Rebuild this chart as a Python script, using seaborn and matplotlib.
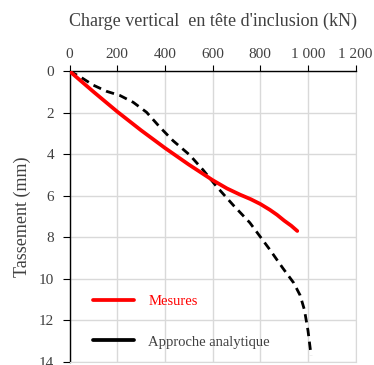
import pandas as pd
import matplotlib
matplotlib.use('Agg')
import matplotlib.pyplot as plt
import seaborn as sns
from matplotlib.lines import Line2D

# data
mes_charge = [0, 100, 200, 300, 400, 500, 600, 660, 715, 760, 800, 840, 870, 900, 930, 955]
mes_tass = [0, 0.99, 1.95, 2.85, 3.7, 4.5, 5.25, 5.65, 5.95, 6.17, 6.4, 6.68, 6.92, 7.2, 7.45, 7.7]
ana_charge = [0, 43, 99, 155, 211, 267, 323, 379, 434, 504, 560, 616, 686, 756, 840, 895, 940, 967, 985, 1000, 1013]
ana_tass = [0, 0.26, 0.67, 0.97, 1.17, 1.5, 1.98, 2.7, 3.35, 4.04, 4.76, 5.55, 6.45, 7.3, 8.6, 9.5, 10.2, 10.8, 11.5, 12.5, 13.7]
x_ticks = [0, 200, 400, 600, 800, 1000, 1200]
x_labels = ['0', '200', '400', '600', '800', '1 000', '1 200']
y_ticks = [0, 2, 4, 6, 8, 10, 12, 14]

sns.set_style('white')
plt.rcParams['font.family'] = ['Liberation Serif', 'DejaVu Serif']
txt = '#404040'

fig = plt.figure(figsize=(3.74, 3.65), dpi=100)
ax = fig.add_axes([0.186, 0.009, 0.765, 0.796])

df_mes = pd.DataFrame({'charge': mes_charge, 'tass': mes_tass})
df_ana = pd.DataFrame({'charge': ana_charge, 'tass': ana_tass})
sns.lineplot(data=df_ana, x='charge', y='tass', sort=False, ax=ax, color='black',
             lw=2.0, linestyle=(0, (3, 2)), zorder=3)
sns.lineplot(data=df_mes, x='charge', y='tass', sort=False, ax=ax, color='#ff0000',
             lw=2.7, zorder=4, solid_capstyle='round', solid_joinstyle='round')

ax.set_xlim(0, 1200)
ax.set_ylim(14, 0)
ax.xaxis.tick_top()
ax.xaxis.set_label_position('top')
ax.set_xticks(x_ticks)
ax.set_xticklabels(x_labels)
ax.set_yticks(y_ticks)
ax.grid(True, color='#d9d9d9', lw=1)
ax.set_axisbelow(True)
for s in ['right', 'bottom']:
    ax.spines[s].set_color('#d9d9d9')
for s in ['left', 'top']:
    ax.spines[s].set_color('black')
    ax.spines[s].set_linewidth(1.0)
ax.tick_params(axis='x', top=True, bottom=False, direction='out', length=4, color='black',
               labelsize=11, labelcolor=txt, pad=3.5)
ax.tick_params(axis='y', left=True, direction='out', length=5, color='black',
               labelsize=11, labelcolor=txt, pad=6)
ax.set_xlabel("Charge vertical  en tête d'inclusion (kN)", fontsize=13, color=txt, labelpad=16)
ax.set_ylabel('Tassement (mm)', fontsize=13, color=txt, labelpad=6)

handles = [Line2D([], [], color='#ff0000', lw=2.7), Line2D([], [], color='black', lw=2.7)]
leg = ax.legend(handles, ['Mesures', 'Approche analytique'], loc='lower left',
                bbox_to_anchor=(0.035, 0.0), frameon=False, fontsize=10.5,
                handlelength=2.8, handletextpad=1.0, labelspacing=1.9)
leg.get_texts()[0].set_color('#ff0000')
leg.get_texts()[1].set_color(txt)

fig.savefig('out.png', dpi=100)
